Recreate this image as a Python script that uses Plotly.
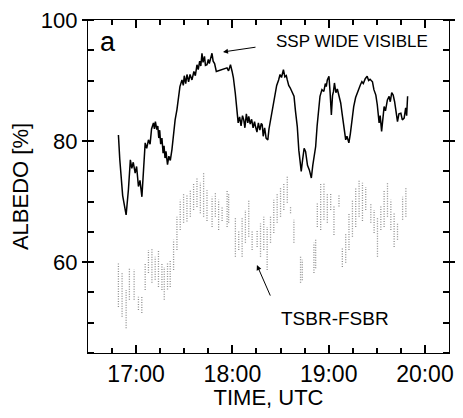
import pandas as pd
import plotly.graph_objects as go

# SSP WIDE VISIBLE (black line): time in decimal hours UTC, albedo %
ssp_time = [16.816, 16.83, 16.86, 16.896, 16.92, 16.94, 16.955, 16.97, 16.99, 17.005, 17.024, 17.04, 17.06, 17.075,
            17.094, 17.11, 17.128, 17.145, 17.16, 17.18, 17.19, 17.2, 17.215, 17.225, 17.235, 17.245, 17.255, 17.268,
            17.28, 17.29, 17.3, 17.31, 17.326, 17.34, 17.355, 17.372, 17.39, 17.405, 17.424, 17.44, 17.455, 17.476,
            17.49, 17.5, 17.515, 17.528, 17.545, 17.56, 17.58, 17.6, 17.615, 17.632, 17.645, 17.66, 17.672, 17.684,
            17.695, 17.71, 17.72, 17.736, 17.75, 17.76, 17.775, 17.788, 17.8, 17.815, 17.833, 17.944, 17.96, 17.98,
            17.997, 18.01, 18.03, 18.045, 18.06, 18.075, 18.09, 18.105, 18.118, 18.13, 18.145, 18.16, 18.17, 18.185,
            18.2, 18.215, 18.23, 18.24, 18.255, 18.27, 18.285, 18.3, 18.31, 18.32, 18.335, 18.35, 18.368, 18.38,
            18.4, 18.43, 18.445, 18.46, 18.48, 18.495, 18.51, 18.52, 18.53, 18.545, 18.56, 18.57, 18.585, 18.6,
            18.62, 18.64, 18.655, 18.674, 18.69, 18.715, 18.73, 18.745, 18.76, 18.78, 18.8, 18.82, 18.835, 18.85,
            18.865, 18.88, 18.895, 18.91, 18.93, 18.95, 18.965, 18.975, 18.986, 19.003, 19.015, 19.028, 19.04, 19.05,
            19.06, 19.075, 19.09, 19.107, 19.125, 19.14, 19.16, 19.177, 19.19, 19.21, 19.225, 19.24, 19.26, 19.28,
            19.3, 19.315, 19.33, 19.345, 19.36, 19.38, 19.40, 19.415, 19.43, 19.455, 19.47, 19.49, 19.505, 19.524,
            19.535, 19.55, 19.565, 19.576, 19.59, 19.61, 19.628, 19.64, 19.655, 19.67, 19.685, 19.698, 19.715, 19.73,
            19.75, 19.765, 19.784, 19.8, 19.81, 19.82]
ssp_albedo = [81.0, 77, 71, 67.8, 72, 76.9, 75.5, 76.5, 74.7, 75.8, 72.5, 73.5, 70.8, 74,
              79.7, 78.8, 80.2, 79.5, 82, 83.0, 82, 83.2, 81.9, 82.5, 80.5, 81.8, 79.5, 80.5,
              78, 79.2, 77.2, 78.3, 76.1, 77.5, 76.8, 78.6, 81.5, 83.5, 85.2, 87.5, 89, 90.1,
              89.2, 90.8, 89.5, 91.0, 89.8, 91, 90.1, 91.5, 90.8, 92.6, 91.8, 93.2, 92.4, 94.5,
              93, 94, 92.5, 92.6, 93.5, 92.8, 94, 94.5, 93.2, 92.8, 91.5, 92.1, 91.6, 92.6,
              91.5, 90.5, 87.9, 85, 83.0, 84, 82.5, 84.2, 83.5, 82.2, 84.5, 83, 84.1, 82.8,
              83.6, 82.2, 83.2, 82.4, 81.5, 83, 81.8, 82.9, 82.7, 80.8, 82.2, 80.5, 80.2, 82,
              84, 86.8, 88, 89.2, 90.1, 91, 90.5, 91.5, 91.8, 90.6, 90.8, 90.1, 89.2, 88.8,
              88.2, 87.4, 85, 82.4, 78.5, 75.0, 77, 78.8, 78.3, 76, 75.2, 73.9, 76, 77.8,
              79.1, 82.5, 85, 87.4, 88.5, 88.2, 89.5, 89, 90.1, 90.7, 88, 84.3, 87.5, 88.2,
              89.6, 88, 88.6, 87.4, 86.3, 84.5, 82, 80.2, 80.8, 79.7, 81.2, 83.5, 85.7, 87.2,
              88.2, 88.8, 89.3, 89.8, 89.5, 90.3, 90.7, 90, 90.2, 89.8, 88.5, 87.6, 86, 83.0,
              84.2, 81.6, 84, 85.7, 85, 86.8, 87.4, 86.5, 88, 87.6, 86.5, 85.2, 83.2, 84.5,
              84.6, 83.5, 83.8, 85.5, 84.2, 87.4]

# TSBR-FSBR (grey streaks): time in decimal hours, low and high albedo % of each streak
tsbr_time = [16.816, 16.854, 16.896, 16.930, 16.979, 17.024, 17.059, 17.094, 17.128, 17.164, 17.198, 17.232,
             17.268, 17.292, 17.326, 17.354, 17.389, 17.424, 17.458, 17.493, 17.528, 17.563, 17.597, 17.632,
             17.667, 17.701, 17.736, 17.789, 17.823, 17.857, 17.893, 17.945, 17.961, 18.031, 18.066, 18.101,
             18.135, 18.170, 18.205, 18.257, 18.292, 18.326, 18.361, 18.396, 18.430, 18.465, 18.5, 18.534,
             18.570, 18.604, 18.639, 18.708, 18.726, 18.847, 18.865, 18.882, 18.917, 18.951, 18.986, 19.021,
             19.055, 19.107, 19.142, 19.177, 19.211, 19.247, 19.281, 19.316, 19.351, 19.385, 19.438, 19.472,
             19.507, 19.542, 19.576, 19.611, 19.646, 19.680, 19.715, 19.768, 19.802]
tsbr_low = [52.6, 51.0, 49.1, 53.8, 53.8, 52.1, 51.6, 55.4, 58.2, 56.6, 57.1, 55.9,
            55.4, 53.8, 55.5, 55.9, 58.7, 62.0, 65.3, 66.5, 66.7, 67.5, 68.6, 69.1,
            68.1, 67.5, 66.8, 65.8, 67.5, 65.3, 66.8, 65.8, 66.5, 60.9, 62.0, 60.9,
            63.2, 64.2, 62.0, 62.5, 60.9, 62.0, 58.7, 63.2, 64.8, 66.5, 67.5, 68.6,
            69.8, 68.1, 63.2, 56.6, 57.0, 58.2, 59.0, 65.8, 65.3, 67.0, 66.5, 68.6,
            64.5, 69.2, 59.2, 59.9, 62.0, 64.2, 65.8, 67.5, 66.8, 68.6, 66.5, 64.8,
            60.9, 65.3, 65.8, 67.5, 65.3, 62.5, 63.7, 67.0, 67.5]
tsbr_high = [59.9, 58.2, 55.4, 59.0, 58.8, 54.3, 54.3, 59.9, 62.0, 62.4, 60.9, 62.0,
             59.9, 59.2, 59.9, 60.4, 63.7, 67.5, 70.3, 71.4, 71.0, 71.9, 73.1, 73.9,
             73.1, 74.8, 71.9, 70.8, 71.4, 70.3, 69.2, 71.9, 71.4, 67.5, 65.3, 67.5,
             68.6, 70.3, 65.3, 65.3, 66.4, 67.5, 65.8, 67.5, 70.3, 71.4, 72.4, 73.1,
             74.1, 69.1, 67.0, 60.9, 60.4, 63.2, 63.7, 69.8, 73.1, 73.1, 71.4, 71.4,
             69.2, 71.0, 62.5, 64.8, 68.1, 70.3, 72.4, 73.6, 73.1, 72.4, 69.8, 68.6,
             67.5, 69.2, 71.9, 73.1, 70.3, 68.1, 66.5, 70.8, 72.4]

x_tick_labels = ["17:00", "18:00", "19:00", "20:00"]
y_tick_values = [60, 80, 100]

base = pd.Timestamp("2000-01-01")


def to_dt(h):
    return base + pd.to_timedelta(h, unit="h")


def label_hours(s):
    return int(s[:2]) + int(s[3:]) / 60


ssp_x = [to_dt(h) for h in ssp_time]

gx, gy = [], []
for t, lo, hi in zip(tsbr_time, tsbr_low, tsbr_high):
    d = to_dt(t)
    gx += [d, d, None]
    gy += [lo, hi, None]

fig = go.Figure()
fig.add_trace(go.Scatter(x=gx, y=gy, mode="lines", connectgaps=False,
                         line=dict(color="#8f8f8f", width=1.3, dash="1px,1.5px"),
                         showlegend=False, hoverinfo="skip"))
fig.add_trace(go.Scatter(x=ssp_x, y=ssp_albedo, mode="lines",
                         line=dict(color="black", width=1.5),
                         showlegend=False))

font_family = "Liberation Sans, Arial, sans-serif"
x_tick0 = to_dt(label_hours(x_tick_labels[0])).strftime("%Y-%m-%d %H:%M:%S")
x_dtick_ms = int((label_hours(x_tick_labels[1]) - label_hours(x_tick_labels[0])) * 3600000)

# the page has an 8px body margin, so the figure is sized/placed to compensate
fig.update_layout(
    width=447, height=402,
    margin=dict(l=80, r=6, t=12, b=57),
    paper_bgcolor="white", plot_bgcolor="white",
    font=dict(family=font_family, color="black", size=22),
    showlegend=False,
)
fig.update_xaxes(
    type="date", automargin=False,
    range=[to_dt(16.5), to_dt(20.25)],
    tickmode="linear", tick0=x_tick0, dtick=x_dtick_ms, tickformat="%H:%M",
    ticks="inside", ticklen=8, tickwidth=1.5, tickcolor="#000000",
    minor=dict(dtick=x_dtick_ms // 4, ticks="inside", ticklen=5, tickwidth=1.5, tickcolor="#000000"),
    showline=True, linecolor="black", linewidth=1.2, mirror="allticks",
    ticklabeloverflow="allow",
    tickfont=dict(size=23),
    title=dict(text="TIME, UTC", font=dict(size=22), standoff=5),
)
fig.update_yaxes(
    automargin=False,
    range=[45, 100],
    dtick=y_tick_values[1] - y_tick_values[0],
    ticks="outside", ticklen=5, tickwidth=1.5, tickcolor="#000000",
    minor=dict(dtick=5, ticks="inside", ticklen=6, tickwidth=1.5, tickcolor="#000000"),
    showline=True, linecolor="black", linewidth=1.2, mirror="allticks",
    ticklabeloverflow="allow",
    tickfont=dict(size=22),
    title=dict(text="ALBEDO [%]", font=dict(size=22), standoff=12),
)

fig.add_annotation(xref="paper", yref="paper", x=0.055, y=0.934, text="a", showarrow=False,
                   font=dict(size=27), xanchor="center", yanchor="middle")
fig.add_annotation(xref="paper", yref="paper", x=0.731, y=0.934, text="SSP WIDE VISIBLE", showarrow=False,
                   font=dict(size=17), xanchor="center", yanchor="middle")
fig.add_annotation(xref="paper", yref="paper", x=0.374, y=0.904, text="", showarrow=True,
                   ax=34, ay=-5, arrowhead=2, arrowsize=1, arrowwidth=1, arrowcolor="black")
fig.add_annotation(xref="paper", yref="paper", x=0.684, y=0.105, text="TSBR-FSBR", showarrow=False,
                   font=dict(size=19), xanchor="center", yanchor="middle")
fig.add_annotation(xref="paper", yref="paper", x=0.468, y=0.264, text="", showarrow=True,
                   ax=14, ay=32, arrowhead=2, arrowsize=1, arrowwidth=1, arrowcolor="black")

fig.write_html("out.html")
